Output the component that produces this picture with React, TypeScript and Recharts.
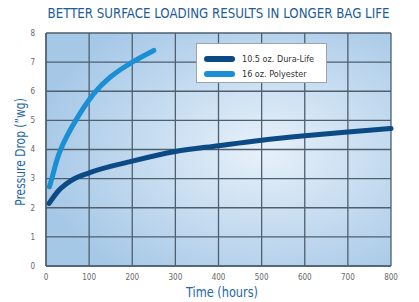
import { LineChart, Line, XAxis, YAxis, CartesianGrid } from 'recharts';

const xTicks = [0, 100, 200, 300, 400, 500, 600, 700, 800];
const yTicks = [0, 1, 2, 3, 4, 5, 6, 7, 8];

// 10.5 oz. Dura-Life
const duraLifeHours = [7, 30, 60, 100, 200, 300, 400, 500, 600, 700, 800];
const duraLifePressure = [2.15, 2.6, 2.95, 3.2, 3.6, 3.93, 4.13, 4.32, 4.47, 4.6, 4.72];

// 16 oz. Polyester
const polyHours = [8, 18, 34, 69, 110, 150, 200, 250];
const polyPressure = [2.72, 3.25, 4.0, 5.0, 5.9, 6.5, 7.0, 7.4];

const DARK = '#0b4a84';
const LIGHT = '#1a8fd4';
const GRID = '#4e5f6e';
const FONT = "'DejaVu Sans Condensed', 'Roboto', sans-serif";

const duraData = duraLifeHours.map((h, i) => ({ hours: h, value: duraLifePressure[i] }));
const polyData = polyHours.map((h, i) => ({ hours: h, value: polyPressure[i] }));

const legendItems = [
  { name: '10.5 oz. Dura-Life', color: DARK },
  { name: '16 oz. Polyester', color: LIGHT },
];

function LegendBox() {
  return (
    <div
      style={{
        position: 'absolute',
        left: 196,
        top: 43,
        background: '#fff',
        border: '1px solid #9aa4ad',
        width: 131,
        height: 40,
        boxSizing: 'border-box',
        padding: '7px 0 0 7px',
        fontFamily: FONT,
        fontSize: 9,
        color: '#333',
      }}
    >
      {legendItems.map((it) => (
        <div key={it.name} style={{ display: 'flex', alignItems: 'center', height: 15 }}>
          <div style={{ width: 31, height: 6, borderRadius: 3, background: it.color, marginRight: 7 }} />
          <span>{it.name}</span>
        </div>
      ))}
    </div>
  );
}

export default function App() {
  return (
    <div style={{ position: 'absolute', left: 0, top: 0, width: 419, height: 302, background: '#fff' }}>
      <div
        style={{
          position: 'absolute',
          left: 0,
          width: 437,
          top: 5,
          textAlign: 'center',
          fontFamily: FONT,
          fontSize: 14,
          color: '#1d5c96',
          transform: 'scaleX(0.94)',
          whiteSpace: 'nowrap',
        }}
      >
        BETTER SURFACE LOADING RESULTS IN LONGER BAG LIFE
      </div>
      <div
        style={{
          position: 'absolute',
          left: 0,
          width: 444,
          top: 284,
          textAlign: 'center',
          fontFamily: FONT,
          fontSize: 14,
          color: '#1f67a8',
          transform: 'scaleX(0.9)',
        }}
      >
        Time (hours)
      </div>
      <div
        style={{
          position: 'absolute',
          left: 20 - 80,
          top: 152 - 9,
          width: 160,
          height: 18,
          lineHeight: '18px',
          textAlign: 'center',
          fontFamily: FONT,
          fontSize: 14,
          color: '#1f67a8',
          transform: 'rotate(-90deg) scaleX(0.85)',
          whiteSpace: 'nowrap',
        }}
      >
        Pressure Drop (”wg)
      </div>
      <LineChart width={419} height={302} margin={{ top: 33, right: 28, bottom: 16, left: 0 }}>
        <defs>
          <radialGradient id="bg" cx="0.63" cy="0.5" r="0.66" fx="0.63" fy="0.5">
            <stop offset="0" stopColor="#e8f1fa" />
            <stop offset="1" stopColor="#a6c8e7" />
          </radialGradient>
        </defs>
        <CartesianGrid stroke={GRID} strokeWidth={1.3} fill="url(#bg)" fillOpacity={1} />
        <XAxis
          dataKey="hours"
          type="number"
          domain={[0, 800]}
          ticks={xTicks}
          height={20}
          allowDuplicatedCategory={false}
          axisLine={{ stroke: GRID, strokeWidth: 1.3 }}
          tickLine={false}
          tick={{ fill: '#666', fontSize: 8, fontFamily: FONT }}
          tickMargin={2}
        />
        <YAxis
          type="number"
          domain={[0, 8]}
          ticks={yTicks}
          width={46}
          axisLine={{ stroke: GRID, strokeWidth: 1.3 }}
          tickLine={false}
          tick={{ fill: '#666', fontSize: 8, fontFamily: FONT }}
          tickMargin={5}
        />
        <Line
          data={duraData}
          dataKey="value"
          name="10.5 oz. Dura-Life"
          type="monotone"
          stroke={DARK}
          strokeWidth={5}
          strokeLinecap="round"
          dot={false}
          isAnimationActive={false}
        />
        <Line
          data={polyData}
          dataKey="value"
          name="16 oz. Polyester"
          type="natural"
          stroke={LIGHT}
          strokeWidth={5}
          strokeLinecap="round"
          dot={false}
          isAnimationActive={false}
        />
      </LineChart>
      <LegendBox />
    </div>
  );
}
